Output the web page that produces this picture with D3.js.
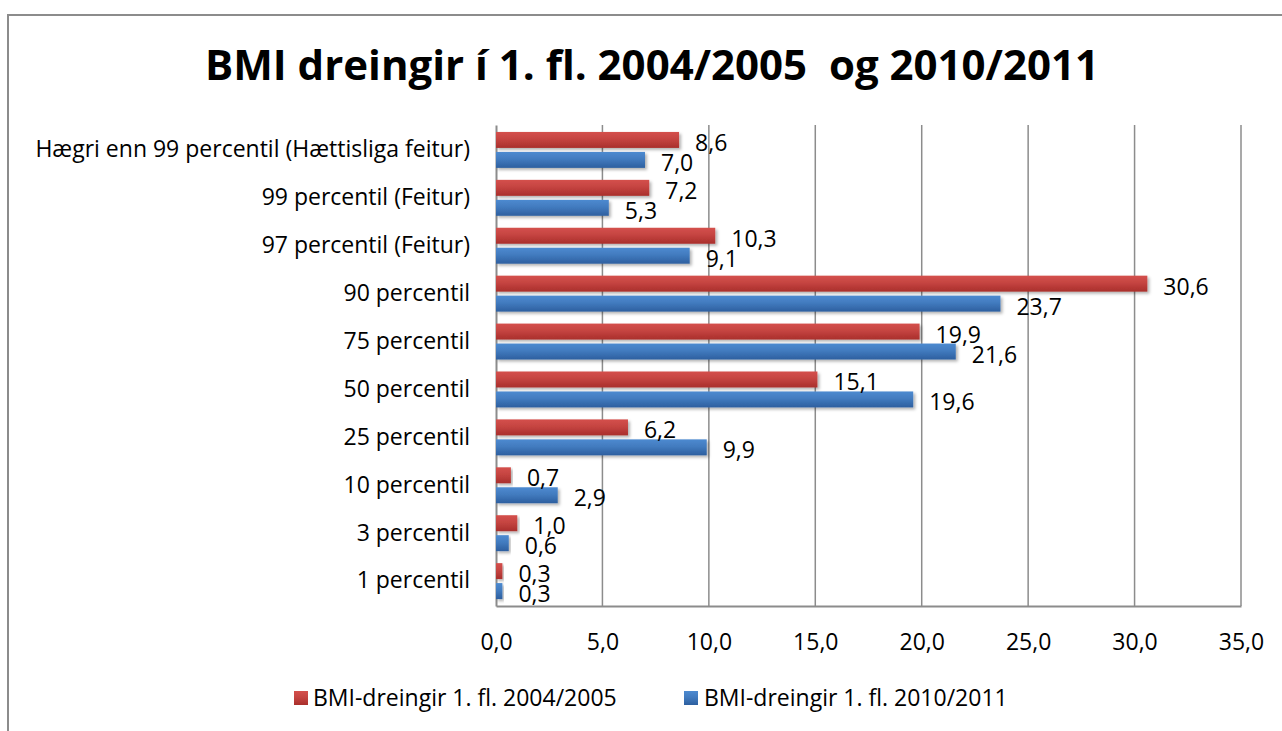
<!DOCTYPE html>
<html>
<head>
<meta charset="utf-8">
<script src="https://cdn.jsdelivr.net/npm/d3@7/dist/d3.min.js"></script>
<style>
  body { margin: 0; background: #fff; }
  svg text { font-family: "Open Sans", sans-serif; fill: #000; }
</style>
</head>
<body>
<div id="chart"></div>
<script>
// categories, top to bottom
var categories = ["Hægri enn 99 percentil (Hættisliga feitur)", "99 percentil (Feitur)", "97 percentil (Feitur)",
  "90 percentil", "75 percentil", "50 percentil", "25 percentil", "10 percentil", "3 percentil", "1 percentil"];
var series = ["BMI-dreingir 1. fl. 2004/2005", "BMI-dreingir 1. fl. 2010/2011"];
var values0405 = [8.6, 7.2, 10.3, 30.6, 19.9, 15.1, 6.2, 0.7, 1.0, 0.3];
var values1011 = [7.0, 5.3, 9.1, 23.7, 21.6, 19.6, 9.9, 2.9, 0.6, 0.3];
var xTicks = [0, 5, 10, 15, 20, 25, 30, 35];

var W = 1282, H = 731;
var plot = {left: 496, right: 1241, top: 125, bottom: 606};
var fs = "23px";

var fmt = function(v){ return d3.format(".1f")(v).replace(".", ","); };

var data = categories.map(function(c, i){
  return {cat: c, vals: [values0405[i], values1011[i]]};
});

var svg = d3.select("#chart").append("svg")
  .attr("width", W).attr("height", H);

var defs = svg.append("defs");
var grads = [["gRed", "#d4504c", "#a92f2c"], ["gBlue", "#4d8ad0", "#2d5f9f"]];
grads.forEach(function(g){
  var lg = defs.append("linearGradient").attr("id", g[0])
    .attr("x1", 0).attr("y1", 0).attr("x2", 0).attr("y2", 1);
  lg.append("stop").attr("offset", "0%").attr("stop-color", g[1]);
  lg.append("stop").attr("offset", "45%").attr("stop-color", d3.interpolateRgb(g[1], g[2])(0.35));
  lg.append("stop").attr("offset", "100%").attr("stop-color", g[2]);
});
var f = defs.append("filter").attr("id", "shadow")
  .attr("x", "-5%").attr("y", "-30%").attr("width", "115%").attr("height", "180%");
f.append("feDropShadow").attr("dx", 2).attr("dy", 2).attr("stdDeviation", 1.5)
  .attr("flood-color", "#000").attr("flood-opacity", 0.3);

// outer frame
svg.append("rect").attr("x", 8).attr("y", 15).attr("width", W + 20).attr("height", H + 20)
  .attr("fill", "none").attr("stroke", "#8c8c8c").attr("stroke-width", 2);

// title
svg.append("text").attr("x", 652).attr("y", 80)
  .attr("text-anchor", "middle").style("font-size", "42px").style("font-weight", "bold")
  .style("white-space", "pre")
  .text("BMI dreingir í 1. fl. 2004/2005  og 2010/2011");

var x = d3.scaleLinear().domain([0, 35]).range([plot.left, plot.right]);
var y = d3.scaleBand().domain(categories).range([plot.top, plot.bottom]).paddingInner(0.25).paddingOuter(0.145);
var ySub = d3.scaleBand().domain([0, 1]).range([0, y.bandwidth()]).paddingInner(0.2);

// gridlines
svg.append("g").selectAll("line").data(xTicks.slice(1)).enter().append("line")
  .attr("x1", function(d){ return x(d); }).attr("x2", function(d){ return x(d); })
  .attr("y1", plot.top).attr("y2", plot.bottom)
  .attr("stroke", "#8c8c8c").attr("stroke-width", 1.5);

// x axis
var xAxis = d3.axisBottom(x).tickValues(xTicks).tickFormat(fmt).tickSize(0).tickPadding(28);
var gx = svg.append("g").attr("transform", "translate(0," + plot.bottom + ")").call(xAxis);
gx.select(".domain").attr("stroke", "#8c8c8c").attr("stroke-width", 2);
gx.selectAll("text").style("font-size", fs).attr("font-family", null);

// y axis
var yAxis = d3.axisLeft(y).tickSize(0).tickPadding(26);
var gy = svg.append("g").attr("transform", "translate(" + plot.left + ",0)").call(yAxis);
gy.select(".domain").attr("stroke", "#8c8c8c").attr("stroke-width", 2);
gy.selectAll("text").style("font-size", fs).attr("font-family", null);

// bars
var groups = svg.append("g").selectAll("g").data(data).enter().append("g")
  .attr("transform", function(d){ return "translate(0," + y(d.cat) + ")"; });

groups.selectAll("rect").data(function(d){ return d.vals; }).enter().append("rect")
  .attr("x", x(0))
  .attr("y", function(d, i){ return ySub(i); })
  .attr("width", function(d){ return x(d) - x(0); })
  .attr("height", ySub.bandwidth())
  .attr("fill", function(d, i){ return i === 0 ? "url(#gRed)" : "url(#gBlue)"; })
  .attr("filter", "url(#shadow)");

groups.selectAll("text.val").data(function(d){ return d.vals; }).enter().append("text")
  .attr("class", "val")
  .attr("x", function(d){ return x(d) + 16; })
  .attr("y", function(d, i){ return ySub(i) + ySub.bandwidth() + 3; })
  .style("font-size", fs)
  .text(fmt);

// legend
var legend = [{x: 294, tx: 313, c: "url(#gRed)"}, {x: 684, tx: 704, c: "url(#gBlue)"}];
legend.forEach(function(l, i){
  svg.append("rect").attr("x", l.x).attr("y", 691).attr("width", 14).attr("height", 14).attr("fill", l.c);
  svg.append("text").attr("x", l.tx).attr("y", 706).style("font-size", fs).text(series[i]);
});
</script>
</body>
</html>
